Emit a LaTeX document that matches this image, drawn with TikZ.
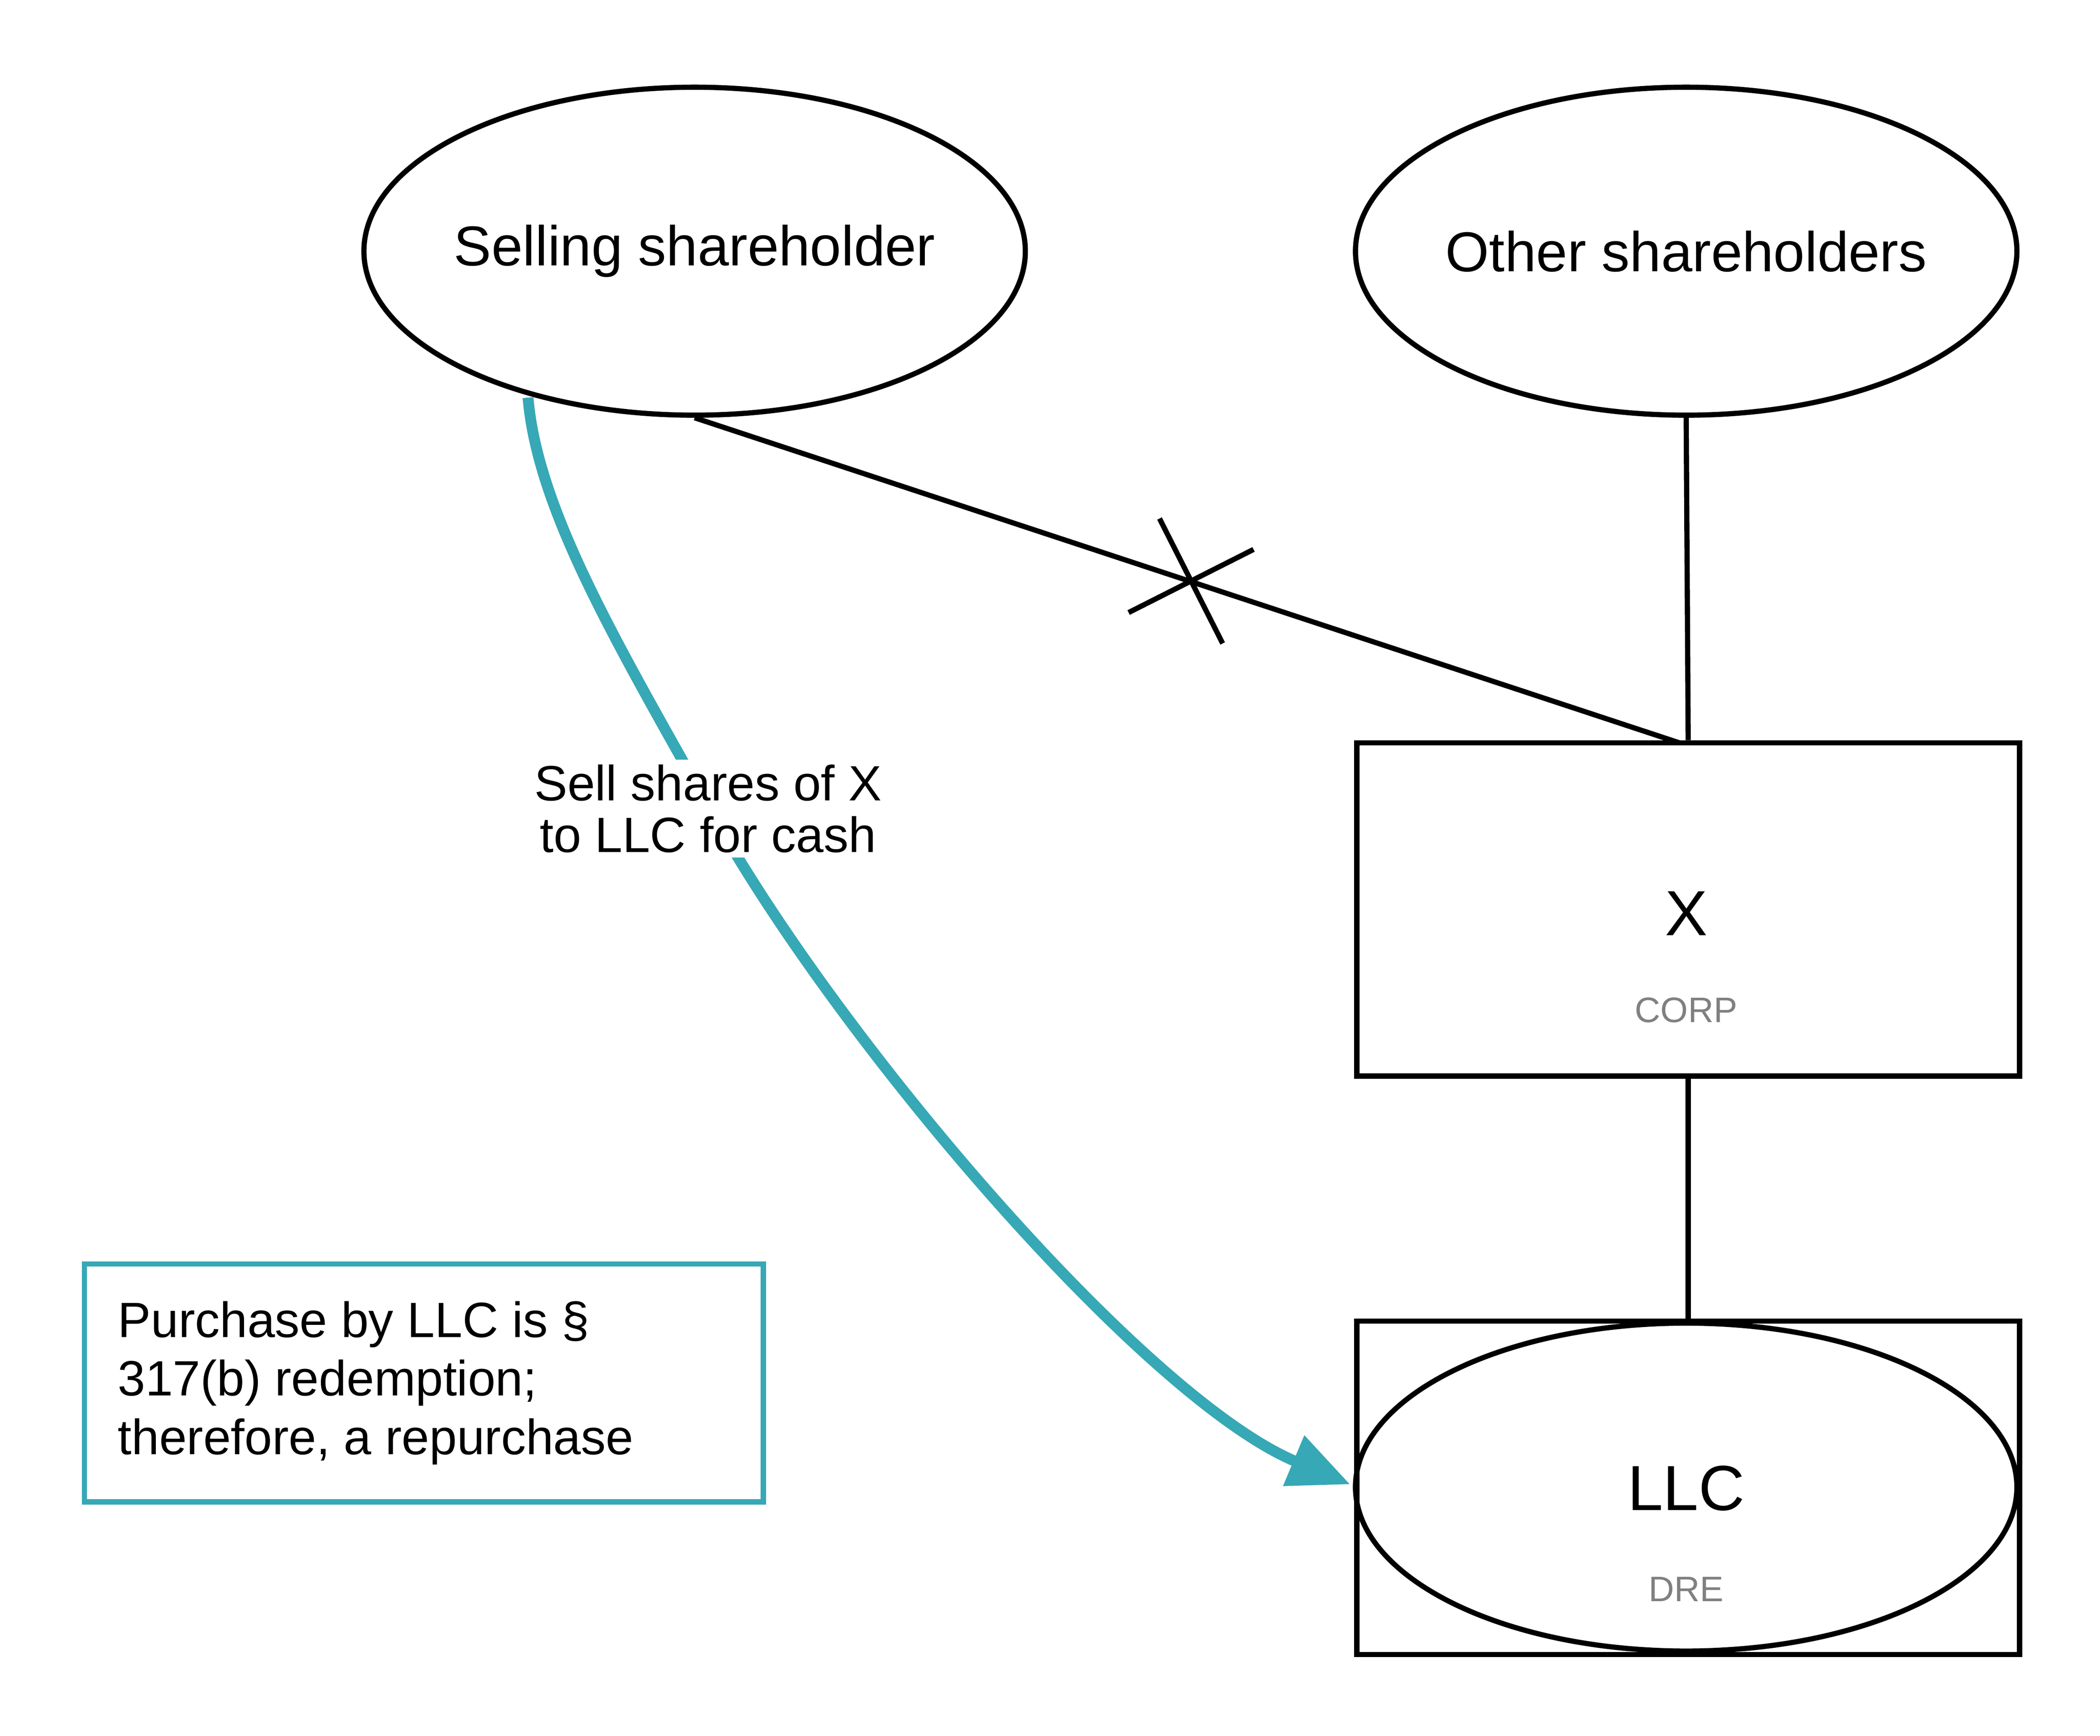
\documentclass[tikz,border=0pt]{standalone}
\usepackage{fontspec}
\setmainfont{Liberation Sans}
\usetikzlibrary{shapes.geometric,arrows.meta}
\definecolor{teal1}{HTML}{37A8B5}
\begin{document}
\begin{tikzpicture}[x=0.01cm,y=-0.01cm,
  ell/.style={draw,line width=1.1pt,ellipse,minimum width=4.92cm,minimum height=2.44cm,inner sep=0pt},
  box/.style={draw,line width=1.1pt,minimum width=4.93cm,minimum height=2.48cm,inner sep=0pt},
  ln/.style={line width=1.1pt},
  sub/.style={font=\fontsize{7.5}{8}\selectfont,text=gray}]
\useasboundingbox (0,0) rectangle (1563,1292);
\node[ell] (sell) at (517,187) {};
\node[font=\fontsize{11.9}{13}\selectfont] (sellt) at (517,187) {Selling shareholder};
\node[ell] (other) at (1255,187) {};
\node[font=\fontsize{11.9}{13}\selectfont] (othert) at (1255,187) {Other shareholders};
\node[box] (x) at (1256.5,677) {};
\node[font=\fontsize{13.5}{15}\selectfont] (xt) at (1255,680) {X};
\node[sub] (corp) at (1255,752) {CORP};
\node[box] (llcbox) at (1256.5,1107.5) {};
\node[ell] (llc) at (1255,1107) {};
\node[font=\fontsize{13.5}{15}\selectfont] (llct) at (1255,1108) {LLC};
\node[sub] (dre) at (1255,1183) {DRE};
\coordinate (xtop) at (1250,553);
\draw[ln] (sell.south) -- (xtop);
\draw[ln] (other.south) -- (x.north);
\draw[ln] (x.south) -- (llcbox.north);
\coordinate (c1) at (863,386); \coordinate (c2) at (910,479);
\coordinate (c3) at (840,456); \coordinate (c4) at (933,409);
\draw[ln] (c1) -- (c2); \draw[ln] (c3) -- (c4);
\coordinate (s) at (393,296);
\coordinate (m) at (527,600);
\coordinate (e) at (1005,1105);
\draw[teal1,line width=2.3pt,-{Triangle[length=13pt,width=11pt]}] (s) .. controls (400,380) and (460,480) .. (m) .. controls (620,770) and (850,1040) .. (e);
\node[fill=white,align=center,inner sep=1pt,font=\fontsize{10.5}{11}\selectfont] (lab) at (527,602) {Sell shares of X\\to LLC for cash};
\node[draw=teal1,line width=1.1pt,minimum width=5.05cm,minimum height=1.77cm,inner sep=0pt] (note) at (315.5,1029.5) {};
\node[anchor=north west,align=left,inner sep=0pt,font=\fontsize{10.5}{12.4}\selectfont] (notet) at (87,968) {Purchase by LLC is §\\317(b) redemption;\\therefore, a repurchase};
\end{tikzpicture}
\end{document}
